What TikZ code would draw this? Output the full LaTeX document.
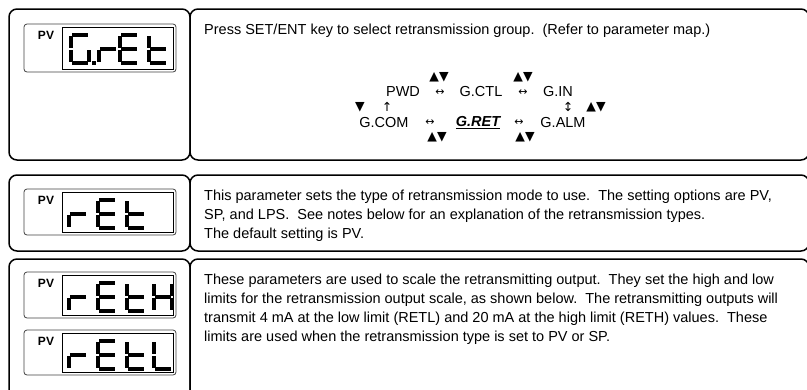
\documentclass[tikz,border=0pt]{standalone}
\usepackage{fontspec}
\setmainfont{Liberation Sans}
\newfontfamily\symfont{DejaVu Sans}

% segments of one display digit, 18 wide and 28 high
\tikzset{
  lcdseg/.style={line width=4pt,shorten <=1.2pt,shorten >=1.2pt},
  lcda/.pic={\draw[lcdseg] (0,0) -- (18,0);},
  lcdb/.pic={\draw[lcdseg] (18,0) -- (18,14);},
  lcdc/.pic={\draw[lcdseg] (18,14) -- (18,28);},
  lcdd/.pic={\draw[lcdseg] (0,28) -- (18,28);},
  lcde/.pic={\draw[lcdseg] (0,14) -- (0,28);},
  lcdf/.pic={\draw[lcdseg] (0,0) -- (0,14);},
  lcdg/.pic={\draw[lcdseg] (0,14) -- (18,14);},
}
\newcommand{\lcdchar}[3][]{%
  \begin{scope}[shift={#2},#1]
    \foreach \s in {#3} {\pic {lcd\s};}
  \end{scope}}

\begin{document}
\begin{tikzpicture}[x=1pt,y=-1pt]
\tikzstyle{frame} = [line width=1.5pt,rounded corners=8pt];
\tikzstyle{lcdout} = [line width=0.8pt,draw=black!75,rounded corners=3pt];
\tikzstyle{lcdin} = [line width=1pt];
\tikzstyle{pv} = [font=\fontsize{12}{12}\selectfont\bfseries,inner sep=0];
\tikzstyle{body} = [font=\fontsize{14.5}{19}\selectfont,align=left,anchor=north west,inner sep=0];
\tikzstyle{grp} = [font=\fontsize{14.5}{17}\selectfont,inner sep=0];
\tikzstyle{sym} = [font=\symfont\fontsize{11}{11}\selectfont,inner sep=0];
\tikzstyle{key} = [font=\symfont\fontsize{12.5}{12}\selectfont,inner sep=0];
\useasboundingbox (0,0) rectangle (807,389);

% boxes of the three rows
\draw[frame] (9,9) rectangle (190,160);
\draw[frame] (190,9) rectangle (809,160);
\draw[frame] (9,175) rectangle (190,251);
\draw[frame] (190,175) rectangle (809,251);
\draw[frame] (9,259) rectangle (190,400);
\draw[frame] (190,259) rectangle (809,400);

% displays
\draw[lcdout] (24,24) rectangle (176,72);
\draw[lcdin] (62,27) rectangle (173,69);
\node[pv] (pv1) at (46,35) {PV};
\lcdchar{(71,35)}{a,c,d,e,f}
\fill (92,61) rectangle ++(3.5,3.5);
\lcdchar[xscale=0.65]{(99,35)}{e,g}
\lcdchar{(120,35)}{a,d,e,f,g}
\lcdchar{(149,35)}{d,e,f,g}

\draw[lcdout] (24,189) rectangle (176,235);
\draw[lcdin] (62,192) rectangle (173,232);
\node[pv] (pv2) at (46,200) {PV};
\lcdchar{(69,200)}{e,g}
\lcdchar{(98,200)}{a,d,e,f,g}
\lcdchar{(127,200)}{d,e,f,g}

\draw[lcdout] (24,272) rectangle (176,318);
\draw[lcdin] (62,275) rectangle (173,315);
\node[pv] (pv3) at (46,283) {PV};
\lcdchar{(69,283)}{e,g}
\lcdchar{(98,283)}{a,d,e,f,g}
\lcdchar{(127,283)}{d,e,f,g}
\lcdchar{(154,283)}{b,c,e,f,g}

\draw[lcdout] (24,330) rectangle (176,375);
\draw[lcdin] (62,333) rectangle (173,372);
\node[pv] (pv4) at (46,341) {PV};
\lcdchar{(69,341)}{e,g}
\lcdchar{(98,341)}{a,d,e,f,g}
\lcdchar{(127,341)}{d,e,f,g}
\lcdchar{(154,341)}{d,e,f}

% first row: group map
\node[body] (t1) at (204,24) {Press SET/ENT key to select retransmission group.\ \ (Refer to parameter map.)};
\node[grp] (pwd) at (403,92) {PWD};
\node[sym] (h1) at (440,93) {↔};
\node[key] (k1) at (439,77) {▲▼};
\node[grp] (ctl) at (481,92) {G.CTL};
\node[sym] (h2) at (523,93) {↔};
\node[key] (k2) at (523,77) {▲▼};
\node[grp] (gin) at (558,92) {G.IN};
\node[key] (k3) at (360,107) {▼};
\node[key] (u1) at (387,107) {↑};
\node[key] (v1) at (568,107) {↕};
\node[key] (k4) at (596,107) {▲▼};
\node[grp] (com) at (384,123) {G.COM};
\node[sym] (h3) at (430,123) {↔};
\node[key] (k5) at (437,137) {▲▼};
\node[grp,font=\fontsize{14.5}{17}\selectfont\bfseries\itshape] (ret) at (478,123) {\underline{G.RET}};
\node[sym] (h4) at (519,123) {↔};
\node[key] (k6) at (525,137) {▲▼};
\node[grp] (alm) at (563,123) {G.ALM};

% second row
\node[body] (t2) at (204,190) {This parameter sets the type of retransmission mode to use.\ \ The setting options are PV,\\
SP, and LPS.\ \ See notes below for an explanation of the retransmission types.\\
The default setting is PV.};

% third row
\node[body] (t3) at (204,274) {These parameters are used to scale the retransmitting output.\ \ They set the high and low\\
limits for the retransmission output scale, as shown below.\ \ The retransmitting outputs will\\
transmit 4 mA at the low limit (RETL) and 20 mA at the high limit (RETH) values.\ \ These\\
limits are used when the retransmission type is set to PV or SP.};
\end{tikzpicture}
\end{document}
